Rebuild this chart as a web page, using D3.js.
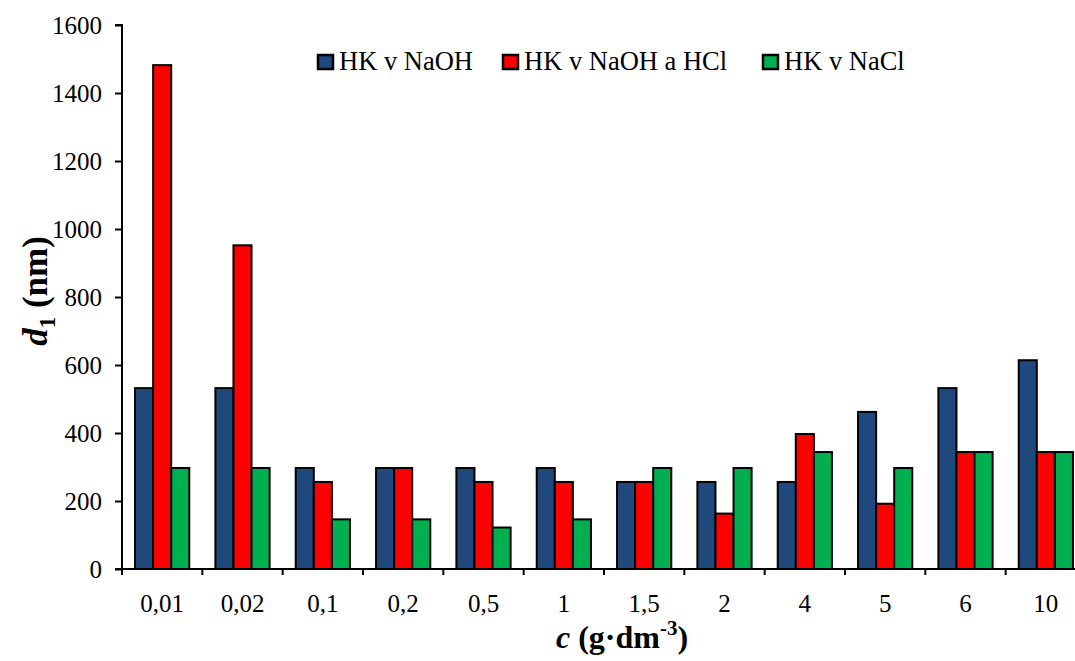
<!DOCTYPE html>
<html><head><meta charset="utf-8">
<script src="https://cdn.jsdelivr.net/npm/d3@7"></script>
<style>body{margin:0;background:#fff;}svg{display:block;}text{font-family:"Liberation Serif","Times New Roman",serif;}</style>
</head><body>
<svg id="c" width="1075" height="661"></svg>
<script>
const categories = ["0,01","0,02","0,1","0,2","0,5","1","1,5","2","4","5","6","10"];
const seriesNames = ["HK v NaOH","HK v NaOH a HCl","HK v NaCl"];
const naoh      = [532, 532, 297, 297, 297, 297, 256, 256, 256, 462, 532, 614];
const naohHcl   = [1482, 952, 256, 297, 256, 256, 256, 163, 397, 192, 344, 344];
const nacl      = [297, 297, 146, 146, 122, 146, 297, 297, 344, 297, 344, 344];
const yTicks = [0,200,400,600,800,1000,1200,1400,1600];
const colors = ["#1F497D","#FF0000","#00B050"];

const seriesData = [naoh, naohHcl, nacl];
const svg = d3.select("#c");
const m = {l:122, t:25, r:1086, b:569};
const x = d3.scaleBand().domain(categories).range([m.l, m.r]).paddingInner(0.325).paddingOuter(0.1625);
const xStep = d3.scaleBand().domain(categories).range([m.l, m.r]).padding(0);
const xs = d3.scaleBand().domain(seriesNames).range([0, x.bandwidth()]);
const y = d3.scaleLinear().domain([0,1600]).range([m.b, m.t]);

// bars
seriesNames.forEach((s, si) => {
  svg.append("g").selectAll("rect").data(categories).join("rect")
    .attr("x", d => x(d) + xs(s))
    .attr("y", (d,i) => y(seriesData[si][i]))
    .attr("width", xs.bandwidth())
    .attr("height", (d,i) => y(0) - y(seriesData[si][i]))
    .attr("fill", colors[si]).attr("stroke", "#000").attr("stroke-width", 2);
});

// y axis
const ya = svg.append("g").attr("transform", `translate(${m.l},0)`)
  .call(d3.axisLeft(y).tickValues(yTicks).tickSize(7).tickPadding(13).tickFormat(d3.format("d")));
ya.select(".domain").attr("stroke","#000").attr("stroke-width",2).attr("d", `M-7,${m.t}H0V${m.b}`);
ya.selectAll(".tick line").attr("stroke","#000").attr("stroke-width",2);
ya.selectAll(".tick text").attr("font-size", 25).attr("fill","#000");

// x axis
const xa = svg.append("g").attr("transform", `translate(0,${m.b})`);
xa.append("line").attr("x1", m.l - 7).attr("x2", m.r).attr("y1",0).attr("y2",0).attr("stroke","#000").attr("stroke-width",2);
xa.selectAll("line.tk").data(categories.concat(["end"])).join("line").attr("class","tk")
  .attr("x1", (d,i) => i < categories.length ? xStep(d) : m.r)
  .attr("x2", (d,i) => i < categories.length ? xStep(d) : m.r)
  .attr("y1", 0).attr("y2", 6).attr("stroke","#000").attr("stroke-width",2);
xa.selectAll("text").data(categories).join("text")
  .attr("x", d => x(d) + x.bandwidth()/2).attr("y", 43)
  .attr("text-anchor","middle").attr("font-size",25).attr("fill","#000").text(d => d);

// axis titles
const yt = svg.append("text").attr("transform","translate(47,291) rotate(-90)")
  .attr("text-anchor","middle").attr("font-size",35).attr("font-weight","bold");
yt.append("tspan").attr("font-style","italic").text("d");
yt.append("tspan").attr("font-size",23).attr("dy",8).text("1");
yt.append("tspan").attr("dy",-8).text(" (nm)");

const xt = svg.append("text").attr("x",622).attr("y",648)
  .attr("text-anchor","middle").attr("font-size",32).attr("font-weight","bold");
xt.append("tspan").attr("font-style","italic").text("c");
xt.append("tspan").text(" (g·dm");
xt.append("tspan").attr("font-size",21).attr("dy",-13).text("-3");
xt.append("tspan").attr("dy",13).text(")");

// legend
const legX = [318, 503, 763];
const lg = svg.append("g");
seriesNames.forEach((s,i) => {
  lg.append("rect").attr("x", legX[i]).attr("y", 55).attr("width",15).attr("height",14)
    .attr("fill", colors[i]).attr("stroke","#000").attr("stroke-width",2.5);
  lg.append("text").attr("x", legX[i]+21).attr("y", 70).attr("font-size",26.5).attr("fill","#000").text(s);
});
</script>
</body></html>
